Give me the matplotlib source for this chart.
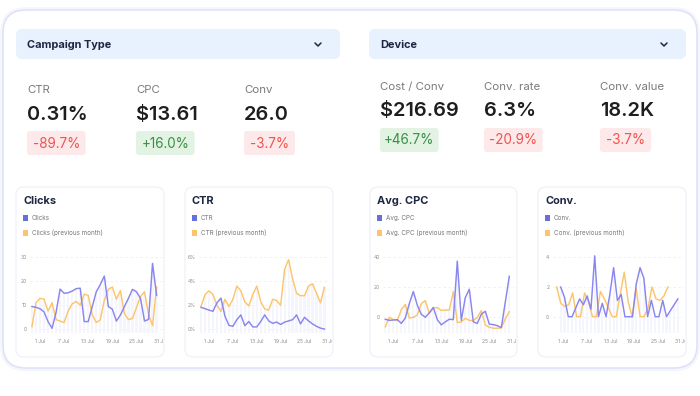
import matplotlib
matplotlib.use('Agg')
import matplotlib.pyplot as plt
from matplotlib.patches import FancyBboxPatch, Rectangle
from matplotlib.transforms import Bbox, TransformedBbox
import numpy as np

plt.rcParams['font.family'] = ['Inter', 'DejaVu Sans']

W, H = 700, 396

# header filters and KPI tiles
dropdowns = ['Campaign Type', 'Device']
left_labels = ['CTR', 'CPC', 'Conv']
left_values = ['0.31%', '$13.61', '26.0']
left_changes = ['-89.7%', '+16.0%', '-3.7%']
right_labels = ['Cost / Conv', 'Conv. rate', 'Conv. value']
right_values = ['$216.69', '6.3%', '18.2K']
right_changes = ['+46.7%', '-20.9%', '-3.7%']

# small charts
date_ticks = [1, 7, 13, 19, 25, 31]
date_labels = ['1 Jul', '7 Jul', '13 Jul', '19 Jul', '25 Jul', '31 Jul']
days = np.arange(-1, 31)

clicks = [9.4, 9.1, 8.5, 7.2, 3.2, 0.4, 7.0, 16.6, 14.9, 15.1, 15.8, 16.8, 17.0, 3.2, 3.2, 9.4,
          15.5, 18.5, 22.0, 9.4, 8.3, 3.4, 5.9, 9.4, 12.8, 16.5, 15.5, 12.8, 3.4, 4.1, 27.2, 14.0]
clicks_prev = [1.1, 11.0, 12.8, 12.5, 7.5, 11.0, 4.0, 3.4, 2.8, 7.5, 10.5, 11.5, 10.0, 14.5, 14.0, 6.0,
               2.8, 3.9, 12.0, 16.5, 17.5, 12.5, 16.0, 6.5, 4.0, 4.5, 9.0, 13.5, 15.5, 6.0, 1.5, 17.5]

ctr = [1.83, 1.72, 1.6, 1.5, 2.2, 2.6, 1.1, 0.33, 0.25, 0.8, 1.2, 0.3, 0.65, 0.2, 0.2, 0.65,
       1.2, 0.7, 0.5, 0.6, 0.4, 0.6, 0.7, 0.8, 1.2, 0.45, 1.0, 0.7, 0.45, 0.25, 0.1, 0.02]
ctr_prev = [1.9, 2.9, 3.2, 2.9, 2.0, 1.5, 2.5, 1.9, 2.5, 3.6, 3.2, 2.3, 1.95, 2.9, 3.6, 2.3,
            1.7, 1.6, 2.5, 2.4, 2.0, 5.0, 5.8, 4.2, 3.0, 2.8, 2.8, 3.6, 3.8, 3.0, 2.2, 3.5]

cpc = [-1.3, -2.0, -1.8, -1.5, -4.0, -0.5, 9.0, 17.0, 8.0, 2.0, 0.0, 3.0, 6.5, -1.5, -5.0, -3.0,
       -1.3, -1.5, 37.0, -2.0, 13.0, 18.5, -3.0, -4.0, 2.0, 4.0, -4.5, -4.8, -5.5, -6.8, 10.0, 27.0]
cpc_prev = [-6.2, 0.0, -1.5, -2.2, 5.0, 8.5, -0.5, 0.0, 1.5, 9.0, 11.0, 2.5, 6.0, 6.5, 4.5, 4.8,
            4.8, 17.0, -3.5, -3.0, -0.7, -2.0, -2.2, 0.0, 4.4, -5.0, -6.5, -7.2, -7.2, -7.0, -1.0, 3.7]

conv_days = np.linspace(0.5, 30, 32)
conv = [2.0, 1.3, 0.0, 0.0, 0.6, 1.2, 0.8, 1.4, 0.5, 4.1, 0.0, 0.9, 0.0, 1.5, 3.3, 1.1,
        1.5, 0.0, 0.0, 0.0, 2.2, 3.3, 2.6, 0.0, 1.1, 0.0, 0.0, 1.1, 0.0, 0.4, 0.8, 1.2]
conv_prev_days = np.arange(29) - 0.5
conv_prev = [2.0, 0.9, 0.7, 0.8, 1.6, 0.0, 0.0, 1.6, 1.0, 0.0, 0.0, 1.7, 1.2, 0.6, 0.0,
             0.0, 1.5, 3.0, 1.0, 0.0, 1.9, 0.0, 0.0, 0.6, 2.0, 1.2, 1.1, 1.4, 2.0]

BLUE = '#8a86ef'
ORANGE = '#fdc56b'
NAVY = '#1d2742'


def px(v):
    return v / 1.389


fig = plt.figure(figsize=(7, 3.96), dpi=100)
fig.patch.set_facecolor('white')
bg = fig.add_axes([0, 0, 1, 1])
bg.set_xlim(0, W)
bg.set_ylim(H, 0)
bg.axis('off')


def rbox(x0, y0, x1, y1, r, fc, ec='none', lw=0, z=1):
    p = FancyBboxPatch((x0 + r, y0 + r), x1 - x0 - 2 * r, y1 - y0 - 2 * r,
                       boxstyle='round,pad=%g' % r, fc=fc, ec=ec, lw=lw, zorder=z)
    bg.add_patch(p)
    return p


# outer card with a soft glow
rbox(2, 9, 698, 369.5, 24, 'none', '#f4f5fd', 2.5, z=0)
rbox(3, 10, 697, 368, 23, 'white', '#dde1f8', 1.1, z=1)

# dropdowns
for (x0, x1), name in zip([(16, 340), (369, 686)], dropdowns):
    rbox(x0, 29, x1, 59, 6, '#e8f2fe', z=2)
    bg.text(x0 + 11, 44.5, name, fontsize=px(11), fontweight='bold', color=NAVY,
            va='center', ha='left', zorder=3)
    cx = x1 - 22
    bg.plot([cx - 3, cx, cx + 3], [43, 46, 43], color=NAVY, lw=1.1, zorder=3,
            solid_capstyle='round', solid_joinstyle='round')


def kpis(xs, labels, values, changes, dy):
    for x, lab, val, ch in zip(xs, labels, values, changes):
        bg.text(x, 90 + dy, lab, fontsize=px(11.5), color='#7a7a7a', va='center', ha='left', zorder=3)
        bg.text(x, 114.5 + dy, val, fontsize=px(20), color='#1e1e1e', fontweight='semibold',
                va='center', ha='left', zorder=3)
        up = ch.startswith('+')
        w = 7.6 * len(ch) + 13
        rbox(x, 131 + dy, x + w, 155 + dy, 3, '#e2f2e3' if up else '#fde9e9', z=2)
        bg.text(x + w / 2, 143.5 + dy, ch, fontsize=px(13.5),
                color='#3c8f45' if up else '#ef5350', va='center', ha='center', zorder=3)


kpis([27, 136, 244], left_labels, left_values, left_changes, 0)
kpis([380, 484, 600], right_labels, right_values, right_changes, -3)

# chart cards
cards = [
    dict(x0=16, x1=164, title='Clicks', cur=clicks, prev=clicks_prev, xc=days, xp=days,
         p1=40, ppd=4.02, yzero=329.3, ppu=2.42, yt=[0, 10, 20, 30], fmt='{:g}'),
    dict(x0=185, x1=333, title='CTR', cur=ctr, prev=ctr_prev, xc=days, xp=days,
         p1=209, ppd=3.98, yzero=329.3, ppu=12.0, yt=[0, 2, 4, 6], fmt='{:g}%'),
    dict(x0=370, x1=517, title='Avg. CPC', cur=cpc, prev=cpc_prev, xc=days, xp=days,
         p1=393.3, ppd=4.0, yzero=317.3, ppu=1.517, yt=[0, 20, 40], fmt='{:g}'),
    dict(x0=538, x1=686, title='Conv.', cur=conv, prev=conv_prev, xc=conv_days, xp=conv_prev_days,
         p1=562.7, ppd=3.97, yzero=316.7, ppu=14.85, yt=[0, 2, 4], fmt='{:g}'),
]

TOP, BOT = 255, 333
for c in cards:
    rbox(c['x0'], 187, c['x1'], 357, 8, 'white', '#eef0fa', 0.8, z=2)
    tx = c['x0'] + 7
    bg.text(tx, 200.5, c['title'], fontsize=px(11), fontweight='bold', color=NAVY,
            va='center', ha='left', zorder=3)
    for yy, col, lab in [(218, '#6670d8', c['title']),
                         (233, ORANGE, c['title'] + ' (previous month)')]:
        bg.add_patch(Rectangle((tx, yy - 2.6), 5.2, 5.2, fc=col, ec='none', zorder=3))
        bg.text(tx + 9, yy, lab, fontsize=px(6.3), color='#777777', va='center', ha='left', zorder=3)

    # axes placed so that data units map onto the reference pixel grid
    xlo, xhi = -1.5, 31.5
    left = c['p1'] + (xlo - 1) * c['ppd']
    right = c['p1'] + (xhi - 1) * c['ppd']
    ylo = (c['yzero'] - BOT) / c['ppu']
    yhi = (c['yzero'] - TOP) / c['ppu']
    ax = fig.add_axes([left / W, 1 - BOT / H, (right - left) / W, (BOT - TOP) / H])
    ax.set_facecolor('none')
    ax.set_xlim(xlo, xhi)
    ax.set_ylim(ylo, yhi)

    # faint daily stripes beneath the lines
    cur = np.array(c['cur'])
    prev = np.array(c['prev'])
    if len(prev) == len(cur):
        top = np.maximum(cur, prev)
    else:
        top = cur
    ax.bar(c['xc'], top - ylo, bottom=ylo, width=0.55, color='#f5f5fd', zorder=1)

    ax.plot(c['xp'], prev, color=ORANGE, lw=1.05, zorder=3, solid_joinstyle='round')
    ax.plot(c['xc'], cur, color=BLUE, lw=1.05, zorder=4, solid_joinstyle='round')

    for s in ax.spines.values():
        s.set_visible(False)
    ax.set_yticks(c['yt'], [c['fmt'].format(v) for v in c['yt']])
    ax.set_xticks(date_ticks, date_labels)
    ax.tick_params(length=0, labelsize=px(5), labelcolor='#8a8a8a', pad=2.5)
    ax.tick_params(axis='x', pad=4)
    ax.grid(axis='y', color='#eceef7', lw=0.6, ls=(0, (3, 3)), zorder=0)
    ax.set_axisbelow(True)
    clip = TransformedBbox(Bbox([[c['x0'], 187], [c['x1'] - 1, 357]]), bg.transData)
    for t in ax.get_xticklabels():
        t.set_clip_box(clip)
        t.set_clip_on(True)

fig.savefig('out.png', dpi=100, facecolor='white')
